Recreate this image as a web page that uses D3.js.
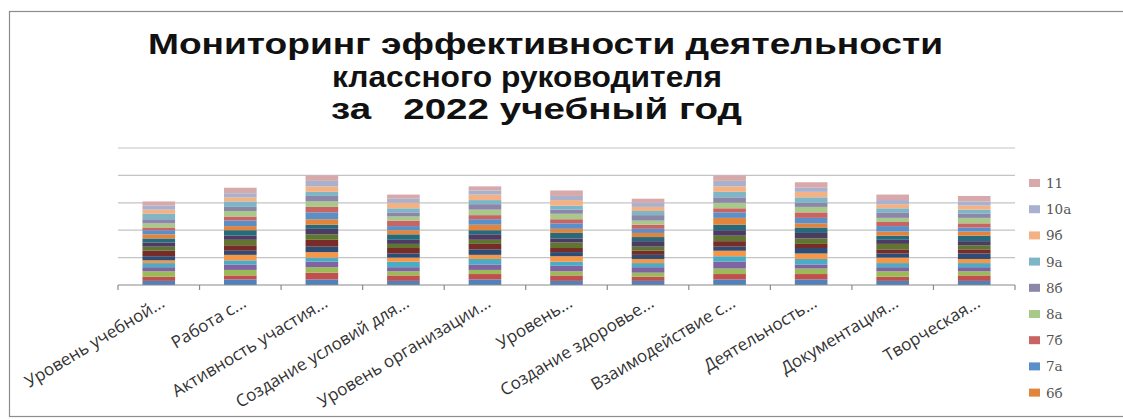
<!DOCTYPE html>
<html><head><meta charset="utf-8">
<script src="https://cdn.jsdelivr.net/npm/d3@7"></script>
<style>
html,body{margin:0;padding:0;background:#fff;}
svg{display:block;}
</style></head>
<body><svg id="chart" width="1123" height="419"></svg>
<script>
// ---- data ----
const categories = [
  "Уровень учебной...", "Работа с...", "Активность участия...", "Создание условий для...",
  "Уровень организации...", "Уровень...", "Создание здоровье...", "Взаимодействие с...",
  "Деятельность...", "Документация...", "Творческая..."
];
const seriesNames = ["1а","1б","2а","2б","3а","3б","4а","4б","5а","5б","6а","6б","7а","7б","8а","8б","9а","9б","10а","11"];
const s1a  = [3,4,4,3,4,3,3,4,4,3,3];
const s1b  = [3,3,5,4,4,4,3,4,4,3,4];
const s2a  = [4,4,4,3,3,3,3,4,4,4,3];
const s2b  = [3,4,4,3,4,4,4,5,3,3,3];
const s3a  = [3,3,3,4,4,3,3,4,4,3,3];
const s3b  = [2,4,4,3,3,4,3,4,4,4,3];
const s4a  = [3,3,4,3,4,3,3,3,4,3,4];
const s4b  = [4,4,5,4,4,3,3,4,3,3,3];
const s5a  = [3,4,4,3,3,4,3,4,4,4,3];
const s5b  = [3,3,4,3,4,3,4,4,4,3,3];
const s6a  = [3,4,3,4,3,4,3,4,4,3,4];
const s6b  = [3,3,4,3,4,3,3,5,3,3,3];
const s7a  = [3,4,5,3,4,4,3,4,4,4,3];
const s7b  = [2,3,4,4,3,3,3,3,4,3,3];
const s8a  = [3,4,4,3,4,4,3,4,4,3,4];
const s8b  = [3,3,4,3,4,3,4,4,3,4,3];
const s9a  = [4,4,3,3,3,3,3,4,4,3,3];
const s9b  = [3,3,4,4,4,4,3,4,4,3,3];
const s10a = [3,3,4,3,3,3,3,4,3,3,3];
const s11  = [3,4,4,3,3,4,3,4,4,4,4];
const seriesValues = [s1a,s1b,s2a,s2b,s3a,s3b,s4a,s4b,s5a,s5b,s6a,s6b,s7a,s7b,s8a,s8b,s9a,s9b,s10a,s11];
const yTicks = [0,20,40,60,80,100];
const titleLines = ["Мониторинг эффективности деятельности","классного руководителя","за   2022 учебный год"];
const palette = ["#4F81BD","#C0504D","#9BBB59","#8064A2","#4BACC6","#F79646",
                 "#2C4D75","#772C2A","#5F7530","#4D3B62","#276A7C","#E3843C",
                 "#5B8FC7","#C86464","#A9C98B","#8C86A8","#7EB6C8","#F4B183",
                 "#A8B2CE","#D8A9AB"];
const legendVisibleCount = 9;

// ---- layout ----
const svg = d3.select("#chart");
const plot = {left:118, right:1015, top:148, bottom:285};

// frame
svg.append("rect").attr("x",9.5).attr("y",11.5).attr("width",1130).attr("height",405)
  .attr("fill","#fff").attr("stroke","#8c8c8c").attr("stroke-width",1.2);

// title
const titleY = [54, 87, 119];
const titleX = [[148,943],[332,722],[331,742]];
titleLines.forEach((t,i)=>{
  svg.append("text").attr("x",titleX[i][0]).attr("y",titleY[i])
    .attr("textLength",titleX[i][1]-titleX[i][0]).attr("lengthAdjust","spacingAndGlyphs")
    .attr("font-family","'Liberation Sans', Arial, sans-serif")
    .attr("font-weight","bold")
    .attr("font-size",29).attr("fill","#111").style("white-space","pre").text(t);
});

const x = d3.scaleBand().domain(categories).range([plot.left, plot.right]).paddingInner(0.6).paddingOuter(0.3);
const y = d3.scaleLinear().domain([0,100]).range([plot.bottom, plot.top]);

// gridlines
svg.append("g").selectAll("line").data(yTicks.slice(1)).join("line")
  .attr("x1",plot.left).attr("x2",plot.right).attr("y1",d=>y(d)).attr("y2",d=>y(d))
  .attr("stroke","#c4c4c4").attr("stroke-width",1.2);

// stacked data
const table = categories.map((c,ci)=>{
  const o = {cat:c};
  seriesNames.forEach((s,si)=>{ o[s] = seriesValues[si][ci]; });
  return o;
});
const stack = d3.stack().keys(seriesNames)(table);
const color = d3.scaleOrdinal().domain(seriesNames).range(palette);

svg.append("g").selectAll("g").data(stack).join("g").attr("fill",d=>color(d.key))
  .selectAll("rect").data(d=>d).join("rect")
  .attr("x",d=>x(d.data.cat)).attr("width",x.bandwidth())
  .attr("y",d=>y(d[1])).attr("height",d=>y(d[0])-y(d[1]));

// x axis
const step = x.step();
const ax = svg.append("g");
ax.append("line").attr("x1",plot.left).attr("x2",plot.right).attr("y1",plot.bottom).attr("y2",plot.bottom)
  .attr("stroke","#8a8a8a").attr("stroke-width",1.2);
const bounds = d3.range(categories.length+1).map(i=>plot.left + i*step);
ax.selectAll("line.tick").data(bounds).join("line").attr("class","tick")
  .attr("x1",d=>d).attr("x2",d=>d).attr("y1",plot.bottom).attr("y2",plot.bottom+5)
  .attr("stroke","#8a8a8a").attr("stroke-width",1.2);

ax.selectAll("text").data(categories).join("text")
  .attr("transform",d=>`translate(${x(d)+x.bandwidth()/2+7},${plot.bottom+21}) rotate(-31)`)
  .attr("text-anchor","end")
  .attr("font-family","'Open Sans', 'DejaVu Sans', sans-serif").attr("font-size",17)
  .attr("fill","#333").text(d=>d);

// legend (top series first; only the entries that fit are shown)
const legendItems = seriesNames.slice().reverse().slice(0, legendVisibleCount);
const lg = svg.append("g");
legendItems.forEach((s,i)=>{
  const yy = 183 + i*26.2;
  lg.append("rect").attr("x",1029).attr("y",yy-4).attr("width",11).attr("height",8).attr("fill",color(s));
  lg.append("text").attr("x",1046).attr("y",yy+5).attr("font-family","'DejaVu Serif', serif")
    .attr("font-size",13.5).attr("fill","#555").text(s);
});
</script></body></html>
